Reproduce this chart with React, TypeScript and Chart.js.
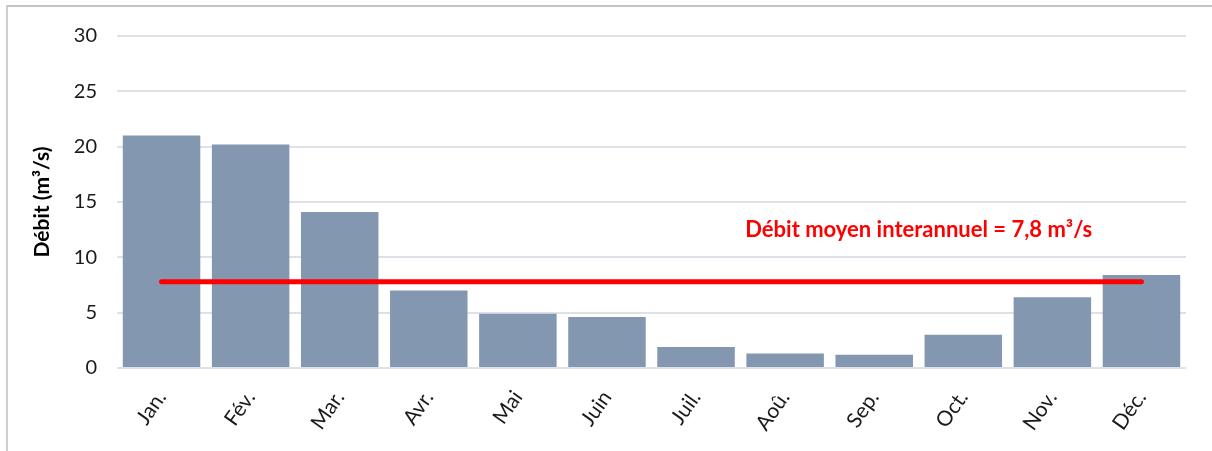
import React, { useEffect, useRef } from "react";
import { Chart, registerables } from "chart.js";

Chart.register(...registerables);

const MONTHS = ["Jan.", "Fév.", "Mar.", "Avr.", "Mai", "Juin", "Juil.", "Aoû.", "Sep.", "Oct.", "Nov.", "Déc."];
const DEBIT = [21.0, 20.2, 14.1, 7.0, 4.9, 4.6, 1.9, 1.3, 1.2, 3.0, 6.4, 8.4];
const MEAN_DEBIT = 7.8;
const MEAN_LINE = MONTHS.map(() => MEAN_DEBIT);
const Y_MIN = 0;
const Y_MAX = 30;
const Y_STEP = 5;
const Y_TITLE = "Débit (m³/s)";
const ANNOTATION = "Débit moyen interannuel = 7,8 m³/s";

const FONT = "Lato, 'Open Sans', sans-serif";

const annotationPlugin = {
  id: "meanAnnotation",
  afterDatasetsDraw(chart: any) {
    const { ctx, scales } = chart;
    const x = scales.x.getPixelForValue(8.5);
    const y = scales.y.getPixelForValue(12.5);
    ctx.save();
    ctx.fillStyle = "#FF0000";
    ctx.font = `bold 22px ${FONT}`;
    ctx.textAlign = "center";
    ctx.textBaseline = "middle";
    ctx.fillText(ANNOTATION, x, y);
    ctx.restore();
  },
};

export default function App() {
  const canvasRef = useRef<HTMLCanvasElement | null>(null);

  useEffect(() => {
    if (!canvasRef.current) return;
    const chart = new Chart(canvasRef.current, {
      type: "bar",
      data: {
        labels: MONTHS,
        datasets: [
          {
            type: "line",
            label: "Débit moyen",
            data: MEAN_LINE,
            borderColor: "#FF0000",
            borderWidth: 5,
            borderCapStyle: "round",
            pointRadius: 0,
            fill: false,
            order: 0,
          } as any,
          {
            type: "bar",
            label: "Débit",
            data: DEBIT,
            backgroundColor: "#8497B0",
            barPercentage: 0.87,
            categoryPercentage: 1,
            order: 1,
          },
        ],
      },
      options: {
        responsive: false,
        animation: false,
        layout: { padding: { left: 26, right: 26, top: 36, bottom: 0 } },
        plugins: {
          legend: { display: false },
          tooltip: { enabled: false },
        },
        scales: {
          x: {
            grid: { display: false },
            border: { display: false },
            ticks: {
              color: "#1a1a1a",
              font: { family: FONT, size: 21 },
              minRotation: 55,
              maxRotation: 55,
              padding: 10,
            },
            afterFit: (scale: any) => {
              scale.height = 83;
            },
          },
          y: {
            min: Y_MIN,
            max: Y_MAX,
            border: { display: false },
            grid: { color: "#DDE2E9", lineWidth: 2, drawTicks: false },
            ticks: {
              stepSize: Y_STEP,
              color: "#1a1a1a",
              font: { family: FONT, size: 20 },
              padding: 20,
            },
            title: {
              display: true,
              text: Y_TITLE,
              color: "#000000",
              font: { family: FONT, size: 21, weight: "bold" },
              padding: { top: 4, bottom: 0 },
            },
            afterFit: (scale: any) => {
              scale.width = 91;
            },
          },
        },
      },
      plugins: [annotationPlugin],
    });
    return () => chart.destroy();
  }, []);

  return (
    <div style={{ position: "fixed", left: 0, top: 0, width: 1212, height: 451, background: "#fff" }}>
      <canvas ref={canvasRef} width={1212} height={451} style={{ display: "block" }} />
      <div
        style={{
          position: "absolute",
          left: 6,
          top: 5,
          right: -10,
          bottom: -10,
          borderTop: "2px solid #C4C4C4",
          borderLeft: "2px solid #CFCFCF",
          pointerEvents: "none",
        }}
      />
    </div>
  );
}
